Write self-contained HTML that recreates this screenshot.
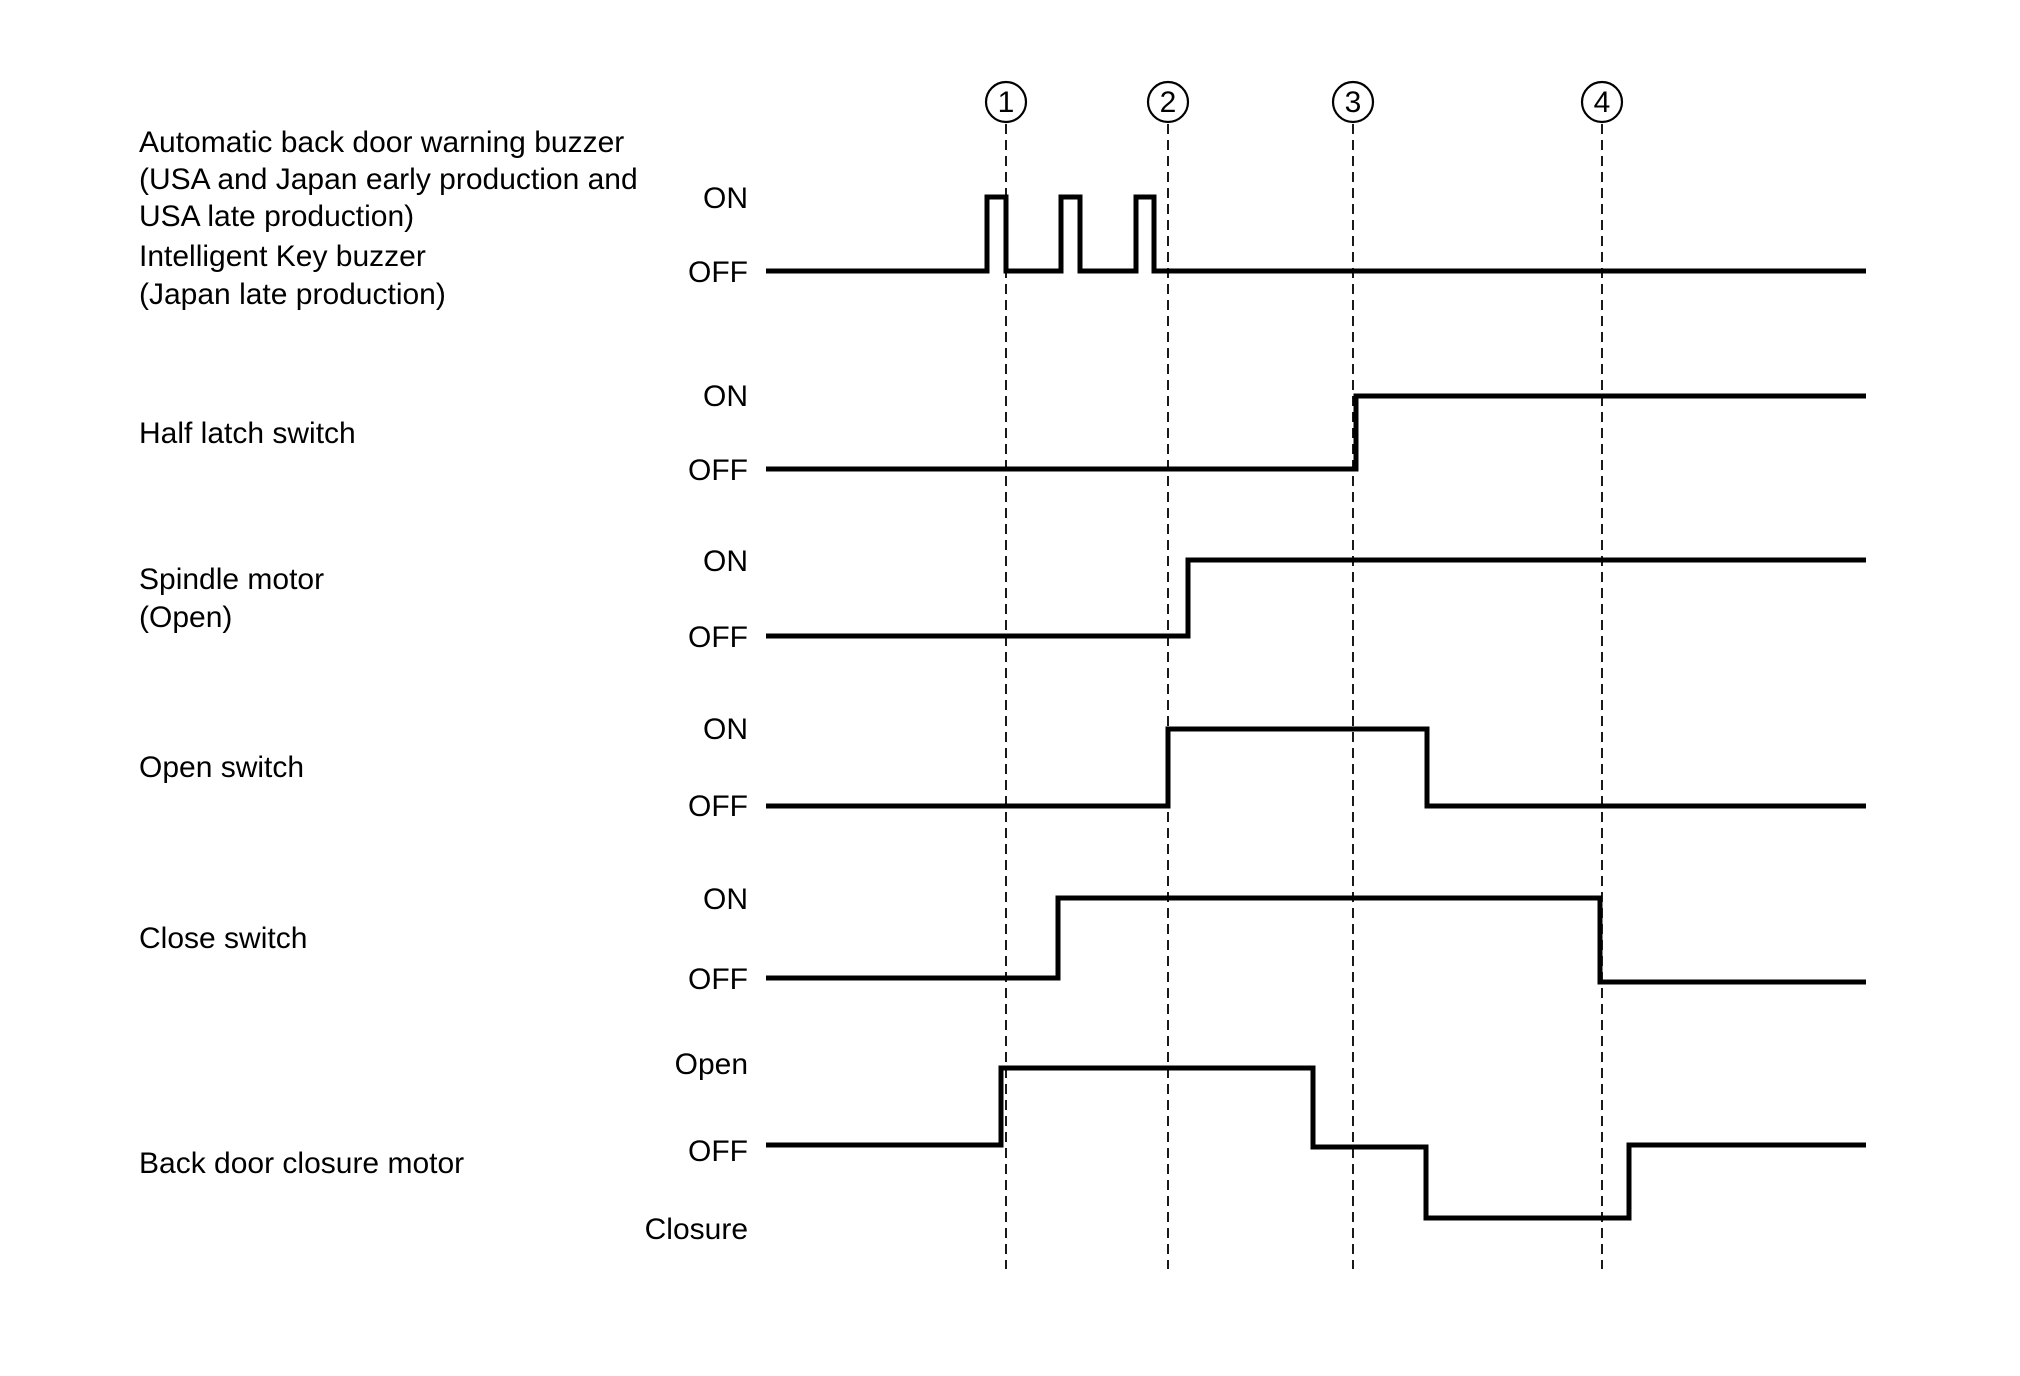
<!DOCTYPE html>
<html><head><meta charset="utf-8"><style>
html,body{margin:0;padding:0;background:#fff;}
svg text{font-family:"Liberation Sans",sans-serif;font-size:30px;fill:#000;}
</style></head><body>
<svg width="2020" height="1371" viewBox="0 0 2020 1371" xmlns="http://www.w3.org/2000/svg">
<rect width="2020" height="1371" fill="#fff"/>
<g stroke="#000" stroke-width="1.8" stroke-dasharray="10,6" fill="none">
<line x1="1006" y1="124" x2="1006" y2="1269"/>
<line x1="1168" y1="124" x2="1168" y2="1269"/>
<line x1="1353" y1="124" x2="1353" y2="1269"/>
<line x1="1602" y1="124" x2="1602" y2="1269"/>
</g>
<g stroke="#000" stroke-width="2.2" fill="#fff">
<circle cx="1006" cy="102" r="20"/><circle cx="1168" cy="102" r="20"/>
<circle cx="1353" cy="102" r="20"/><circle cx="1602" cy="102" r="20"/>
</g>
<g text-anchor="middle" style="font-size:28px">
<text x="1006" y="112">1</text><text x="1168" y="112">2</text>
<text x="1353" y="112">3</text><text x="1602" y="112">4</text>
</g>
<g stroke="#000" stroke-width="5" fill="none" stroke-linejoin="miter">
<polyline points="766,271 987,271 987,197 1006,197 1006,271 1061,271 1061,197 1080,197 1080,271 1136,271 1136,197 1154,197 1154,271 1866,271"/>
<polyline points="766,469 1356,469 1356,396 1866,396"/>
<polyline points="766,636 1188,636 1188,560 1866,560"/>
<polyline points="766,806 1168,806 1168,729 1427,729 1427,806 1866,806"/>
<polyline points="766,978 1058,978 1058,898 1600,898 1600,982 1866,982"/>
<polyline points="766,1145 1001,1145 1001,1068 1313,1068 1313,1147 1426,1147 1426,1218 1629,1218 1629,1145 1866,1145"/>
</g>
<g>
<text x="139" y="152">Automatic back door warning buzzer</text>
<text x="139" y="189">(USA and Japan early production and</text>
<text x="139" y="226">USA late production)</text>
<text x="139" y="266">Intelligent Key buzzer</text>
<text x="139" y="304">(Japan late production)</text>
<text x="139" y="443">Half latch switch</text>
<text x="139" y="589">Spindle motor</text>
<text x="139" y="627">(Open)</text>
<text x="139" y="777">Open switch</text>
<text x="139" y="948">Close switch</text>
<text x="139" y="1173">Back door closure motor</text>
</g>
<g text-anchor="end">
<text x="748" y="208">ON</text><text x="748" y="282">OFF</text>
<text x="748" y="406">ON</text><text x="748" y="480">OFF</text>
<text x="748" y="571">ON</text><text x="748" y="647">OFF</text>
<text x="748" y="739">ON</text><text x="748" y="816">OFF</text>
<text x="748" y="909">ON</text><text x="748" y="989">OFF</text>
<text x="748" y="1074">Open</text><text x="748" y="1161">OFF</text>
<text x="748" y="1239">Closure</text>
</g>
</svg>
</body></html>
